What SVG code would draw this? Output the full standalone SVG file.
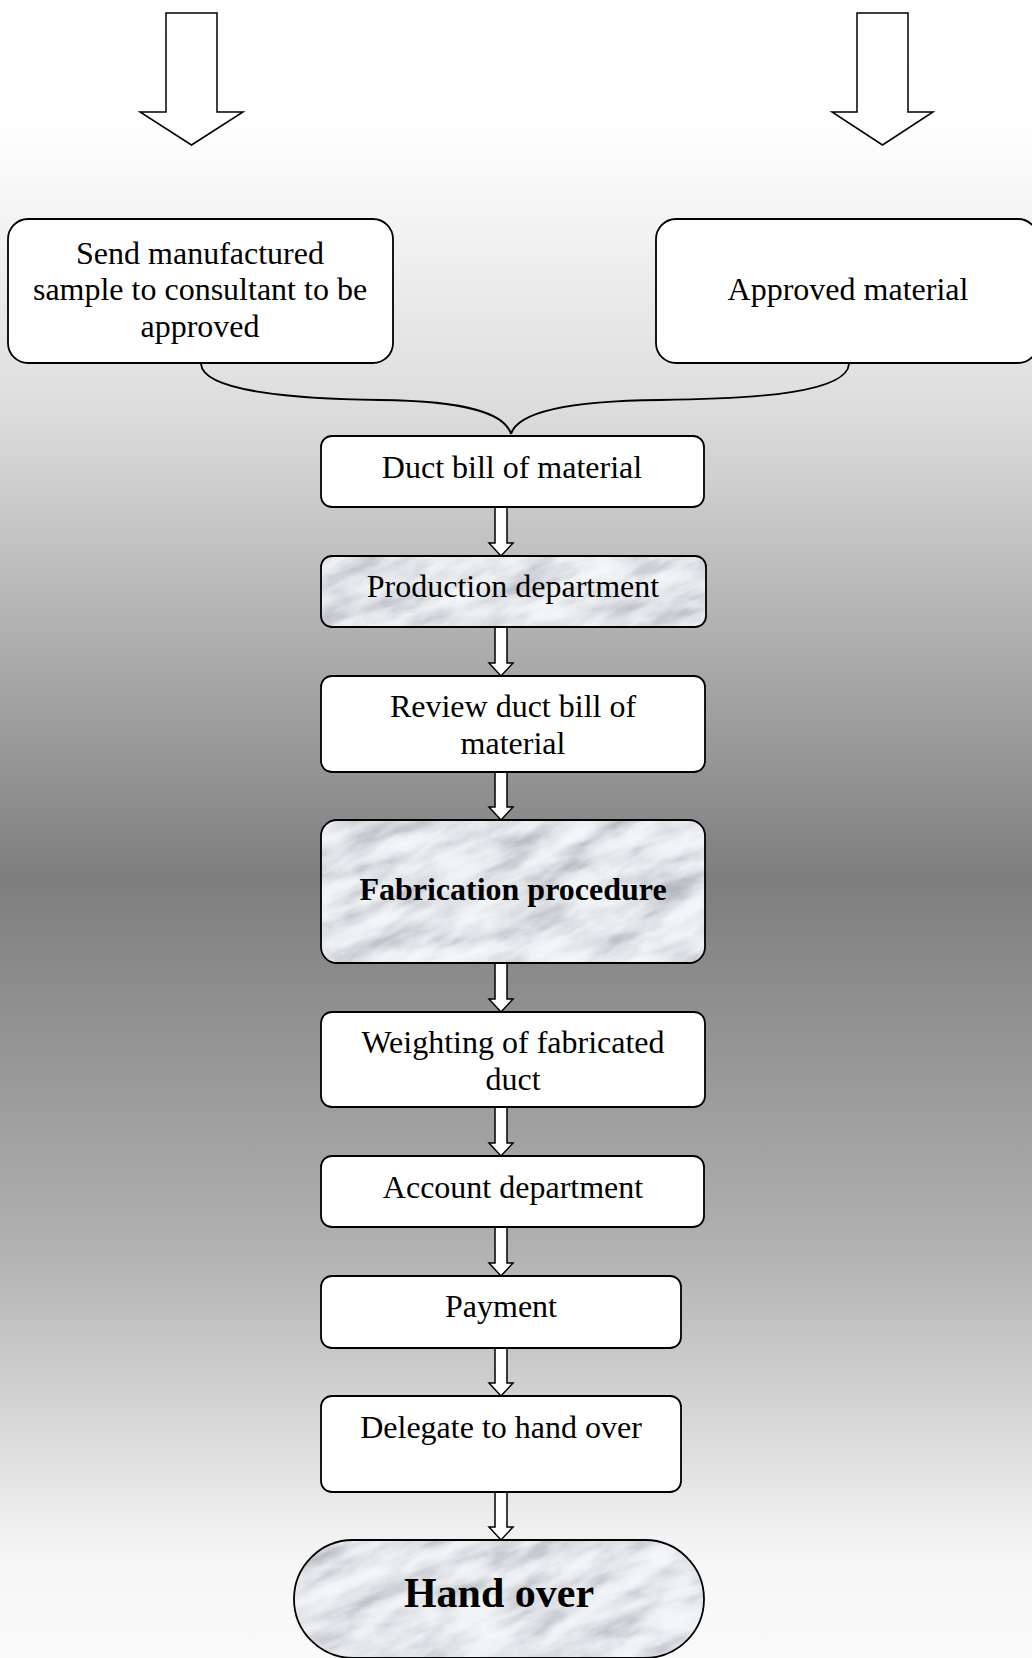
<svg xmlns="http://www.w3.org/2000/svg" width="1032" height="1658" viewBox="0 0 1032 1658">
<style>
.box{fill:#fff;stroke:#000;stroke-width:1.8}
.frame{fill:none;stroke:#000;stroke-width:1.8}
.t{font-family:"Liberation Serif","Times New Roman",serif;font-size:32px;fill:#000;text-anchor:middle}
.b{font-weight:bold}
.arr{fill:#fff;stroke:#000;stroke-width:1.5;stroke-linejoin:miter}
.con{fill:none;stroke:#000;stroke-width:1.8}
</style>
<defs>
<linearGradient id="bg" x1="0" y1="0" x2="0" y2="1658" gradientUnits="userSpaceOnUse">
<stop offset="0" stop-color="#ffffff"/>
<stop offset="0.08" stop-color="#fefefe"/>
<stop offset="0.25" stop-color="#dcdcdc"/>
<stop offset="0.53" stop-color="#7e7e7e"/>
<stop offset="0.75" stop-color="#b0b0b0"/>
<stop offset="0.94" stop-color="#f6f6f6"/>
<stop offset="1" stop-color="#fafafa"/>
</linearGradient>
<filter id="marble" x="0" y="0" width="100%" height="100%" color-interpolation-filters="sRGB">
<feTurbulence type="fractalNoise" baseFrequency="0.016 0.05" numOctaves="5" seed="11" result="n"/>
<feColorMatrix in="n" type="saturate" values="0" result="g"/>
<feComponentTransfer in="g">
<feFuncR type="table" tableValues="0.6 0.66 0.76 0.86 0.93 0.96 0.95 0.9"/>
<feFuncG type="table" tableValues="0.61 0.67 0.77 0.87 0.94 0.97 0.96 0.91"/>
<feFuncB type="table" tableValues="0.65 0.7 0.8 0.89 0.95 0.98 0.97 0.93"/>
<feFuncA type="linear" slope="0" intercept="1"/>
</feComponentTransfer>
</filter>
<clipPath id="cProd"><rect x="321" y="556" width="385" height="71" rx="11"/></clipPath>
<clipPath id="cFab"><rect x="321" y="820" width="384" height="143" rx="16"/></clipPath>
<clipPath id="cHand"><rect x="294" y="1540" width="410" height="118" rx="59"/></clipPath>
</defs>

<rect x="0" y="0" width="1032" height="1658" fill="url(#bg)"/>

<g id="connectors">
<polygon class="arr" points="166,13 217,13 217,112 243,112 191.5,145 140,112 166,112"/>
<polygon class="arr" points="857,13 908,13 908,112 933,112 882.5,145 832,112 857,112"/>
<path class="con" d="M201,364 C203,392 300,399 380,400 C470,401 505,414 511,434"/>
<path class="con" d="M849,364 C847,392 760,399 660,400 C560,401 517,414 511,434"/>
<polygon class="arr" points="495,507 507,507 507,543 513,543 501,556 489,543 495,543"/>
<polygon class="arr" points="495,627 507,627 507,663 513,663 501,676 489,663 495,663"/>
<polygon class="arr" points="495,772 507,772 507,807 513,807 501,820 489,807 495,807"/>
<polygon class="arr" points="495,963 507,963 507,999 513,999 501,1012 489,999 495,999"/>
<polygon class="arr" points="495,1107 507,1107 507,1143 513,1143 501,1156 489,1143 495,1143"/>
<polygon class="arr" points="495,1227 507,1227 507,1263 513,1263 501,1276 489,1263 495,1263"/>
<polygon class="arr" points="495,1348 507,1348 507,1383 513,1383 501,1396 489,1383 495,1383"/>
<polygon class="arr" points="495,1492 507,1492 507,1527 513,1527 501,1540 489,1527 495,1527"/>
</g>

<g id="n-send">
<rect class="box" x="8" y="219" width="385" height="144" rx="20"/>
<text class="t" x="200" y="264">Send manufactured</text>
<text class="t" x="200" y="300">sample to consultant to be</text>
<text class="t" x="200" y="337">approved</text>
</g>

<g id="n-approved">
<rect class="box" x="656" y="219" width="382" height="144" rx="20"/>
<text class="t" x="848" y="300">Approved material</text>
</g>

<g id="n-duct">
<rect class="box" x="321" y="436" width="383" height="71" rx="11"/>
<text class="t" x="512" y="478">Duct bill of material</text>
</g>

<g id="n-production">
<g clip-path="url(#cProd)"><rect x="260" y="420" width="510" height="340" filter="url(#marble)" transform="rotate(-22 513 591)"/></g>
<rect class="frame" x="321" y="556" width="385" height="71" rx="11"/>
<text class="t" x="513" y="597">Production department</text>
</g>

<g id="n-review">
<rect class="box" x="321" y="676" width="384" height="96" rx="11"/>
<text class="t" x="513" y="717">Review duct bill of</text>
<text class="t" x="513" y="754">material</text>
</g>

<g id="n-fabrication">
<g clip-path="url(#cFab)"><rect x="230" y="700" width="570" height="390" filter="url(#marble)" transform="rotate(-22 513 891)"/></g>
<rect class="frame" x="321" y="820" width="384" height="143" rx="16"/>
<text class="t b" x="513" y="900">Fabrication procedure</text>
</g>

<g id="n-weighting">
<rect class="box" x="321" y="1012" width="384" height="95" rx="11"/>
<text class="t" x="513" y="1053">Weighting of fabricated</text>
<text class="t" x="513" y="1090">duct</text>
</g>

<g id="n-account">
<rect class="box" x="321" y="1156" width="383" height="71" rx="11"/>
<text class="t" x="513" y="1198">Account department</text>
</g>

<g id="n-payment">
<rect class="box" x="321" y="1276" width="360" height="72" rx="11"/>
<text class="t" x="501" y="1317">Payment</text>
</g>

<g id="n-delegate">
<rect class="box" x="321" y="1396" width="360" height="96" rx="11"/>
<text class="t" x="501" y="1438">Delegate to hand over</text>
</g>

<g id="n-handover">
<g clip-path="url(#cHand)"><rect x="200" y="1420" width="610" height="360" filter="url(#marble)" transform="rotate(-22 499 1599)"/></g>
<rect class="frame" x="294" y="1540" width="410" height="118" rx="59"/>
<text class="t b" x="499" y="1607" style="font-size:42px">Hand over</text>
</g>
</svg>
